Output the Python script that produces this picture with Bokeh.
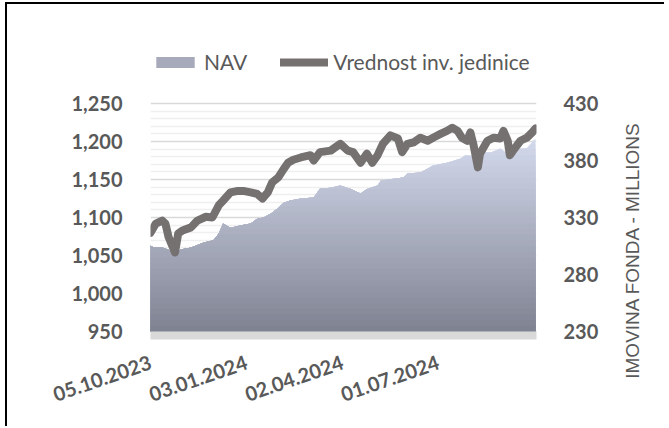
import math
import numpy as np
import pandas as pd
from bokeh.plotting import figure
from bokeh.layouts import row
from bokeh.models import (Range1d, LinearAxis, FixedTicker, Div,
                          NumeralTickFormatter, DatetimeTickFormatter, Legend,
                          LegendItem, ColumnDataSource)
from bokeh.embed import file_html
from bokeh.resources import INLINE

# ---------------- data ----------------
line_dates = ["2023-10-05", "2023-10-10", "2023-10-16", "2023-10-19", "2023-10-22", "2023-10-28", "2023-10-31",
              "2023-11-04", "2023-11-12", "2023-11-18", "2023-11-26",
              "2023-12-02", "2023-12-08", "2023-12-12", "2023-12-19", "2023-12-26", "2023-12-31",
              "2024-01-07", "2024-01-13", "2024-01-18", "2024-01-23", "2024-01-27",
              "2024-02-02", "2024-02-07", "2024-02-11", "2024-02-16", "2024-02-23",
              "2024-03-03", "2024-03-06", "2024-03-12", "2024-03-22", "2024-03-31",
              "2024-04-07", "2024-04-12", "2024-04-19", "2024-04-25", "2024-04-30",
              "2024-05-05", "2024-05-10", "2024-05-17", "2024-05-24", "2024-05-28",
              "2024-06-02", "2024-06-08", "2024-06-14", "2024-06-21", "2024-06-26",
              "2024-07-03", "2024-07-09", "2024-07-14", "2024-07-19", "2024-07-23", "2024-07-28", "2024-07-31",
              "2024-08-03", "2024-08-07", "2024-08-09", "2024-08-16", "2024-08-22", "2024-08-28", "2024-08-31",
              "2024-09-04", "2024-09-06", "2024-09-09", "2024-09-16", "2024-09-22", "2024-09-27", "2024-09-30"]
line_values = [1080, 1092, 1096, 1092, 1074, 1054, 1079,
               1083, 1087, 1096, 1101,
               1100, 1116, 1122, 1133, 1135, 1135,
               1133, 1131, 1125, 1133, 1146,
               1153, 1164, 1172, 1176, 1179,
               1182, 1175, 1186, 1188, 1197,
               1188, 1186, 1172, 1184, 1172,
               1182, 1197, 1208, 1204, 1186,
               1197, 1199, 1205, 1201, 1205,
               1210, 1214, 1218, 1214, 1205, 1201, 1212,
               1195, 1166, 1184, 1201, 1205, 1204, 1214,
               1201, 1182, 1188, 1201, 1205, 1212, 1217]

nav_dates = ["2023-10-05", "2023-10-08", "2023-10-16", "2023-10-24", "2023-10-28",
             "2023-11-02", "2023-11-12", "2023-11-24",
             "2023-12-03", "2023-12-08", "2023-12-12", "2023-12-19", "2023-12-28",
             "2024-01-07", "2024-01-13", "2024-01-19", "2024-01-26",
             "2024-02-01", "2024-02-07", "2024-02-13", "2024-02-23",
             "2024-03-06", "2024-03-12", "2024-03-22", "2024-03-31",
             "2024-04-10", "2024-04-19", "2024-04-25",
             "2024-05-05", "2024-05-08", "2024-05-20", "2024-05-29",
             "2024-06-02", "2024-06-14", "2024-06-26",
             "2024-07-09", "2024-07-22", "2024-07-26",
             "2024-08-03", "2024-08-09", "2024-08-19", "2024-08-28",
             "2024-09-04", "2024-09-09", "2024-09-16", "2024-09-22", "2024-09-28", "2024-09-30"]
nav_values = [305.4, 303.7, 303.7, 301, 297.5,
              302, 303.7, 308,
              310, 316, 324.7, 321, 323,
              324.7, 329, 330, 333.5,
              338, 343, 345, 346.7,
              347.5, 355.4, 356, 358,
              355, 351, 355,
              358, 362.5, 364, 365,
              368.6, 369.5, 375.6,
              378, 381.8, 384.4,
              384, 387, 387, 390.5,
              386, 387, 390.5, 391, 397.5, 399]

x_tick_labels = ["05.10.2023", "03.01.2024", "02.04.2024", "01.07.2024"]
left_ticks = [950, 1000, 1050, 1100, 1150, 1200, 1250]
right_ticks = [230, 280, 330, 380, 430]
series_names = ["NAV", "Vrednost inv. jedinice"]
right_title = "IMOVINA FONDA - MILLIONS"

# ---------------- styling ----------------
TXT = "#595959"
FONT = "Lato"
LINE_COLOR = "#767171"
GRAD_BOTTOM = (127, 130, 145)
GRAD_TOP = (212, 218, 237)
BORDER = "2px solid #000000"

x_start = pd.Timestamp(line_dates[0])
x_end = x_start + pd.Timedelta(days=362)

# frame: page y 40 (top) .. 335 (bottom); lowest tick 4px above the bottom
px_per_left = 228 / 300.0
px_per_right = 228 / 200.0
pad_px = 4
top_px = 291
left_lo = left_ticks[0] - pad_px / px_per_left
left_hi = left_ticks[0] + top_px / px_per_left
right_lo = right_ticks[0] - pad_px / px_per_right
right_hi = right_ticks[0] + top_px / px_per_right

p = figure(width=603, height=424, x_axis_type="datetime", title=None,
           x_range=Range1d(x_start, x_end),
           y_range=Range1d(left_lo, left_hi),
           output_backend="svg", toolbar_location=None,
           min_border_left=143, min_border_right=74,
           min_border_top=36, min_border_bottom=93)
p.styles = {"margin-left": "5px", "margin-top": "2px",
            "border-left": BORDER, "border-top": BORDER}
p.outline_line_color = None
p.background_fill_color = "white"
p.border_fill_color = "white"
p.extra_y_ranges = {"nav": Range1d(right_lo, right_hi)}

# ---------------- area with vertical gradient ----------------
nav_x = pd.to_datetime(nav_dates)
nav_arr = np.array(nav_values, dtype=float)
levels = np.arange(230, 405, 5)
strip_renderers = []
n_strips = len(levels) - 1
for k in range(n_strips - 1, -1, -1):
    hi = levels[k + 1]
    t = ((levels[k] + hi) / 2 - levels[0]) / (levels[-1] - levels[0])
    col = tuple(int(round(GRAD_BOTTOM[i] + (GRAD_TOP[i] - GRAD_BOTTOM[i]) * t)) for i in range(3))
    color = "#%02x%02x%02x" % col
    src = ColumnDataSource(dict(x=nav_x, y1=np.full(len(nav_arr), float(right_ticks[0])),
                                y2=np.minimum(nav_arr, hi)))
    r = p.varea(x="x", y1="y1", y2="y2", source=src, fill_color=color,
                y_range_name="nav")
    strip_renderers.append((t, r))

legend_area = min(strip_renderers, key=lambda tr: abs(tr[0] - 0.45))[1]

# ---------------- line ----------------
line_src = ColumnDataSource(dict(x=pd.to_datetime(line_dates), y=line_values))
line_r = p.line(x="x", y="y", source=line_src, line_color=LINE_COLOR, line_width=8,
                line_join="round", line_cap="round")

# ---------------- axes ----------------
minor = [v for v in range(left_ticks[0], left_ticks[-1], 10) if v not in left_ticks]
left_ticker = FixedTicker(ticks=left_ticks, minor_ticks=minor)
yax = p.yaxis[0]
yax.ticker = left_ticker
yax.formatter = NumeralTickFormatter(format="0,0")
yax.axis_line_color = None
yax.major_tick_line_color = None
yax.minor_tick_line_color = None
yax.major_label_standoff = 22
yax.major_label_text_font = FONT
yax.major_label_text_font_style = "bold"
yax.major_label_text_font_size = "20px"
yax.major_label_text_color = TXT

p.ygrid.ticker = left_ticker
p.ygrid.grid_line_color = "#d9d9d9"
p.ygrid.grid_line_width = 1.5
p.ygrid.minor_grid_line_color = "#efefef"
p.ygrid.minor_grid_line_width = 1.5
p.xgrid.grid_line_color = None

rax = LinearAxis(y_range_name="nav", ticker=FixedTicker(ticks=right_ticks))
rax.axis_line_color = None
rax.major_tick_line_color = None
rax.minor_tick_line_color = None
rax.major_label_standoff = 21
rax.major_label_text_font = FONT
rax.major_label_text_font_style = "bold"
rax.major_label_text_font_size = "20px"
rax.major_label_text_color = TXT
p.add_layout(rax, "right")

xax = p.xaxis[0]
tick_ts = pd.to_datetime(x_tick_labels, format="%d.%m.%Y")
xax.ticker = FixedTicker(ticks=[t.value / 1e6 for t in tick_ts])
fmt = "%d.%m.%Y"
xax.formatter = DatetimeTickFormatter(milliseconds=fmt, seconds=fmt, minsec=fmt, minutes=fmt,
                                      hourmin=fmt, hours=fmt, days=fmt, months=fmt, years=fmt)
xax.axis_line_color = "#d9d9d9"
xax.axis_line_width = 8
xax.major_tick_line_color = None
xax.minor_tick_line_color = None
xax.major_label_orientation = math.radians(19)
xax.major_label_standoff = 20
xax.major_label_text_font = FONT
xax.major_label_text_font_style = "bold"
xax.major_label_text_font_size = "20px"
xax.major_label_text_color = TXT

# ---------------- legend ----------------
legend = Legend(items=[LegendItem(label=series_names[0], renderers=[legend_area]),
                       LegendItem(label=series_names[1], renderers=[line_r])],
                orientation="horizontal", location=(1, 261),
                glyph_width=48, glyph_height=14, label_standoff=5, spacing=33,
                padding=0, margin=0,
                label_text_font=FONT, label_text_font_size="21px", label_text_color=TXT,
                border_line_color=None, background_fill_alpha=0)
p.add_layout(legend)

# ---------------- secondary-axis title (rotated, bottom-to-top) ----------------
title_svg = (
    '<svg xmlns="http://www.w3.org/2000/svg" width="59" height="424" style="display:block">'
    '<text x="27.5" y="247" transform="rotate(-90 27.5 247)" text-anchor="middle" '
    'dominant-baseline="central" font-family="Lato" font-size="19px" fill="%s">%s</text>'
    '</svg>' % (TXT, right_title)
)
title_div = Div(text=title_svg, width=59, height=424,
                styles={"margin-top": "2px", "margin-left": "-3px",
                        "border-top": BORDER, "position": "relative"})

layout = row(p, title_div)
open("out.html", "w").write(file_html(layout, INLINE))
